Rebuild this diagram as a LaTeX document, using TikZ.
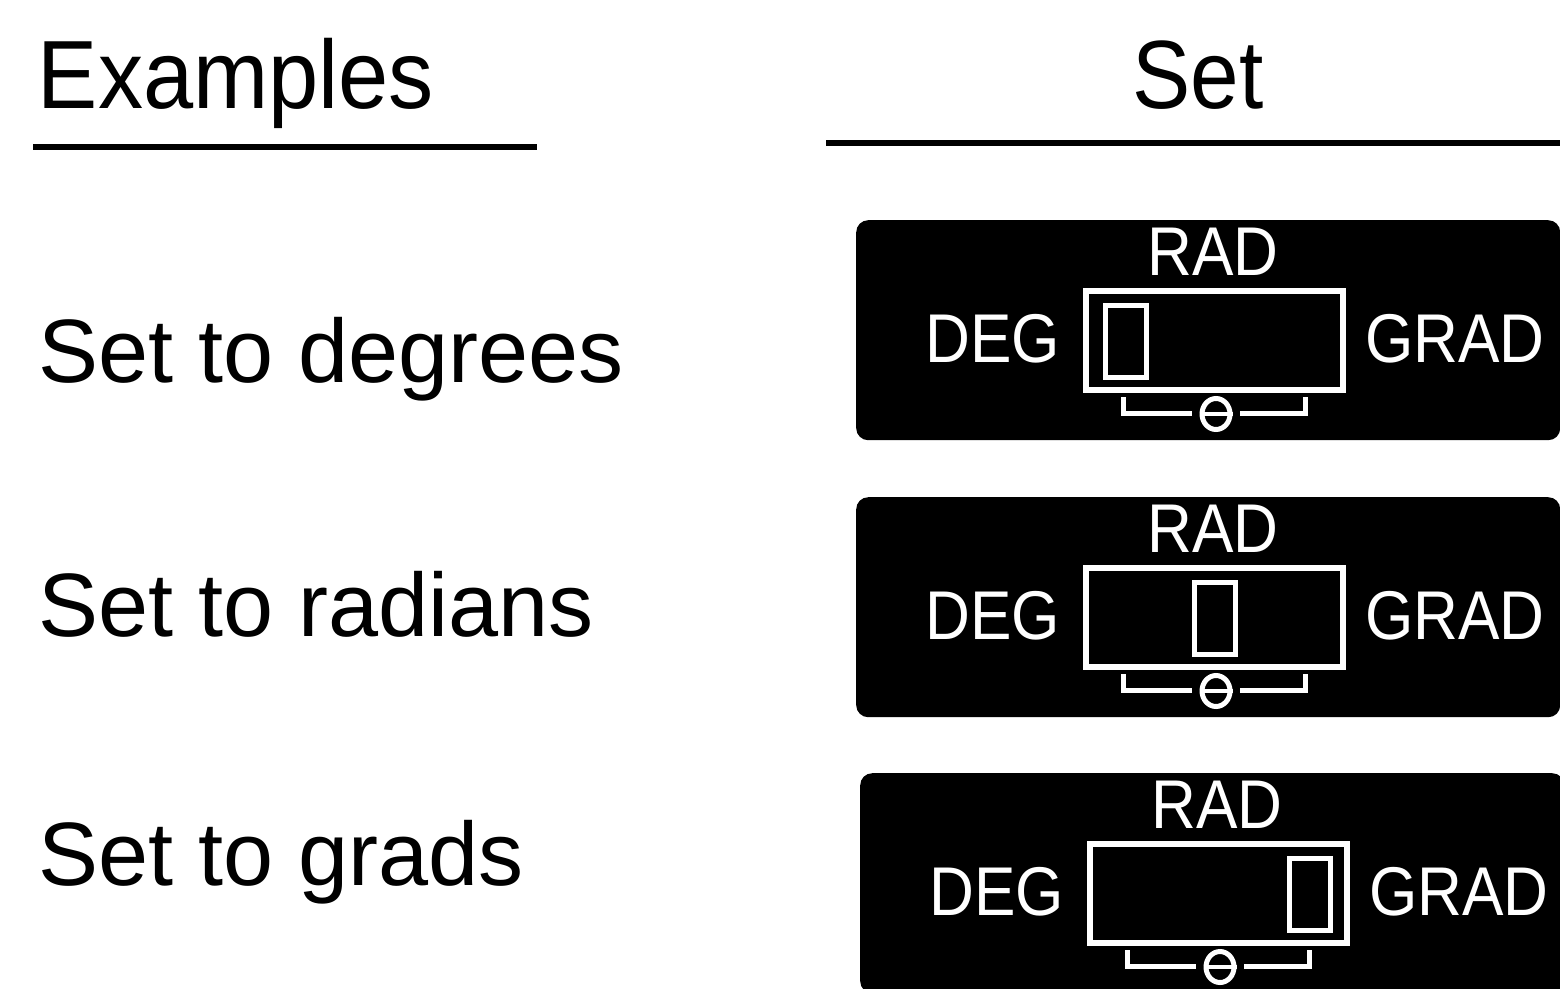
\documentclass[tikz,border=0pt]{standalone}
\usepackage{fontspec}
\setmainfont{Liberation Sans}
\usetikzlibrary{shapes.geometric}
\begin{document}
\begin{tikzpicture}[x=1pt,y=-1pt,
  head/.style={font=\fontsize{97}{100}\selectfont, anchor=base, inner sep=0pt},
  lab/.style={font=\fontsize{90}{100}\selectfont, anchor=base west, inner sep=0pt},
  panel/.style={fill=black, rounded corners=12pt, minimum width=704pt, minimum height=220pt, inner sep=0pt, anchor=north west},
  lcd/.style={text=white, font=\fontsize{69}{70}\selectfont, anchor=base, inner sep=0pt},
  disp/.style={draw=white, line width=6pt, minimum width=257pt, minimum height=99pt, inner sep=0pt, anchor=north west},
  ind/.style={draw=white, line width=5pt, minimum width=41pt, minimum height=72pt, inner sep=0pt, anchor=north west},
  sym/.style={draw=white, line width=5pt, ellipse, minimum width=28pt, minimum height=31pt, inner sep=0pt},
  wline/.style={draw=white, line width=5pt},
  uline/.style={draw=black, line width=6pt},
]
\useasboundingbox (0,0) rectangle (1560,988);
% headers
\node[head] (hex) at (236,108) {\scalebox{0.93}[1]{Examples}};
\node[head] (hset) at (1198,108) {\scalebox{0.9}[1]{Set}};
\draw[uline] (33,147) -- (537,147);
\draw[uline] (826,143) -- (1560,143);
% row labels
\node[lab] (l1) at (38,382) {Set to degrees};
\node[lab] (l2) at (38,636) {Set to radians};
\node[lab] (l3) at (38,885) {Set to grads};
% panels
\foreach \i/\dx/\dy/\ix in {1/0/0/0,2/0/277/89,3/4/553/180}{
  \begin{scope}[shift={(\dx,\dy)}]
    \node[panel] (p\i) at (856,220) {};
    \node[lcd] (rad\i) at (1213,275) {\scalebox{0.9}[1]{RAD}};
    \node[lcd] (deg\i) at (993,362) {\scalebox{0.9}[1]{DEG}};
    \node[lcd] (grad\i) at (1455,362) {\scalebox{0.9}[1]{GRAD}};
    \node[disp] (disp\i) at (1083,288) {};
    \node[ind] (ind\i) at ({1102.5+\ix},302.5) {};
    \node[sym] (sym\i) at (1216,414) {};
    \draw[white, line width=4pt] (sym\i.west) -- (sym\i.east);
    \draw[wline] (1123,397) |- (1192,413);
    \draw[wline] (1240,413) -| (1305,397);
  \end{scope}
}
\end{tikzpicture}
\end{document}
